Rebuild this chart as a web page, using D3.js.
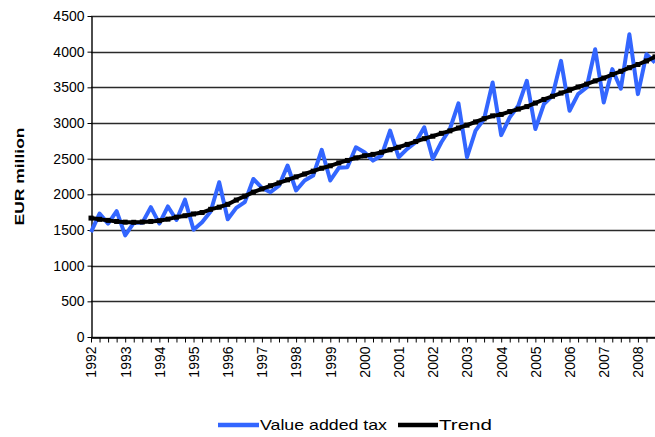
<!DOCTYPE html>
<html>
<head>
<meta charset="utf-8">
<script src="https://cdn.jsdelivr.net/npm/d3@7"></script>
<style>
  html, body { margin: 0; padding: 0; background: #fff; }
  svg { display: block; font-family: "Liberation Sans", Arial, sans-serif; }
</style>
</head>
<body>
<svg id="chart" width="655" height="437"></svg>
<script>
// ---- data (quarterly, 1992Q1 .. 2008Q3) ----
const years = [1992,1993,1994,1995,1996,1997,1998,1999,2000,2001,2002,2003,2004,2005,2006,2007,2008];
const quarters = ["Q1","Q2","Q3","Q4"];
const categories = [];
years.forEach(yr => quarters.forEach(q => categories.push(yr + q)));
categories.length = 67; // last shown quarter: 2008Q3

const vatValues = [
  1470,1730,1590,1765, 1425,1600,1600,1820, 1590,1830,1640,1925, 1505,1610,1760,2170,
  1650,1810,1890,2215, 2090,2030,2120,2404, 2054,2194,2264,2623, 2194,2371,2380,2660,
  2590,2473,2543,2893, 2520,2637,2730,2939, 2497,2730,2916,3275, 2520,2893,3056,3568,
  2830,3079,3242,3591, 2916,3266,3382,3871, 3172,3405,3498,4034, 3288,3755,3480,4244,
  3405,3964,3847
];
const trendValues = [
  1667,1650,1635,1620, 1610,1608,1612,1620, 1630,1652,1680,1700, 1725,1745,1790,1820,
  1860,1920,1975,2031, 2075,2120,2160,2203, 2245,2285,2325,2366, 2400,2440,2475,2511,
  2540,2560,2590,2625, 2660,2700,2740,2780, 2815,2855,2890,2930, 2970,3015,3060,3100,
  3120,3160,3195,3230, 3280,3330,3375,3420, 3460,3505,3545,3590, 3630,3680,3725,3775,
  3820,3870,3927
];
const yTicks = [0,500,1000,1500,2000,2500,3000,3500,4000,4500];
const seriesNames = ["Value added tax","Trend"];
const seriesColors = ["#3366ff","#000000"];

// ---- layout ----
const svg = d3.select("#chart");
const plotLeft = 91, plotRight = 655, plotTop = 16, plotBottom = 337;
const FONT = "'Liberation Sans', Arial, sans-serif";

const x = d3.scalePoint().domain(categories).range([plotLeft, plotRight]);
const y = d3.scaleLinear().domain([0, 4500]).range([plotBottom, plotTop]);

// gridlines
svg.append("g")
  .selectAll("line")
  .data(yTicks)
  .join("line")
  .attr("x1", plotLeft).attr("x2", plotRight)
  .attr("y1", d => Math.round(y(d)) + 0.5).attr("y2", d => Math.round(y(d)) + 0.5)
  .attr("stroke", "#2a2a2a").attr("stroke-width", 1.4);

// y axis
const yAxis = svg.append("g")
  .attr("transform", `translate(${plotLeft + 0.5},0)`)
  .call(d3.axisLeft(y).tickValues(yTicks).tickFormat(d3.format("d"))
    .tickSize(4).tickPadding(3).tickSizeOuter(0));
yAxis.select(".domain").attr("stroke", "#000").attr("stroke-width", 1.4);
yAxis.selectAll(".tick line").attr("stroke", "#000");
yAxis.selectAll(".tick text").attr("font-size", 14).attr("fill", "#000")
  .attr("font-family", FONT);

// x axis
const xAxis = svg.append("g")
  .attr("transform", `translate(0,${plotBottom + 0.5})`)
  .call(d3.axisBottom(x).tickSize(5).tickSizeOuter(0)
    .tickFormat(d => d.endsWith("Q1") ? d.slice(0, 4) : ""));
xAxis.select(".domain").attr("stroke", "#000").attr("stroke-width", 1.4);
xAxis.selectAll(".tick line").attr("stroke", "#000");
xAxis.selectAll(".tick text")
  .attr("font-size", 14).attr("fill", "#000")
  .attr("font-family", FONT)
  .attr("transform", "rotate(-90)")
  .attr("x", -9).attr("y", 0).attr("dy", "0.35em")
  .style("text-anchor", "end");

// y title
svg.append("text")
  .attr("transform", `translate(19,${(plotTop + plotBottom) / 2}) rotate(-90)`)
  .attr("text-anchor", "middle")
  .attr("dy", "0.35em")
  .attr("font-size", 13).attr("font-weight", "bold")
  .attr("textLength", 98).attr("lengthAdjust", "spacingAndGlyphs")
  .text("EUR million");

// lines
const line = d3.line().x((d, i) => x(categories[i])).y(d => y(d));

svg.append("path")
  .datum(vatValues)
  .attr("fill", "none")
  .attr("stroke", seriesColors[0])
  .attr("stroke-width", 4)
  .attr("stroke-linejoin", "round")
  .attr("d", line);

svg.append("path")
  .datum(trendValues)
  .attr("fill", "none")
  .attr("stroke", seriesColors[1])
  .attr("stroke-width", 4)
  .attr("d", line);

svg.append("g")
  .selectAll("rect")
  .data(trendValues)
  .join("rect")
  .attr("x", (d, i) => x(categories[i]) - 2.5)
  .attr("y", d => y(d) - 2.5)
  .attr("width", 5).attr("height", 5)
  .attr("fill", "#000");

// legend
const legend = svg.append("g");
const legendItems = [
  { name: seriesNames[0], color: seriesColors[0], x1: 218, x2: 259, tx: 260, len: 127 },
  { name: seriesNames[1], color: seriesColors[1], x1: 398, x2: 438, tx: 439, len: 53 }
];
legendItems.forEach(it => {
  legend.append("line")
    .attr("x1", it.x1).attr("x2", it.x2).attr("y1", 425).attr("y2", 425)
    .attr("stroke", it.color).attr("stroke-width", 4.5);
  legend.append("text")
    .attr("x", it.tx).attr("y", 425).attr("dy", "0.36em")
    .attr("font-size", 15)
    .attr("textLength", it.len).attr("lengthAdjust", "spacingAndGlyphs")
    .text(it.name);
});
</script>
</body>
</html>
